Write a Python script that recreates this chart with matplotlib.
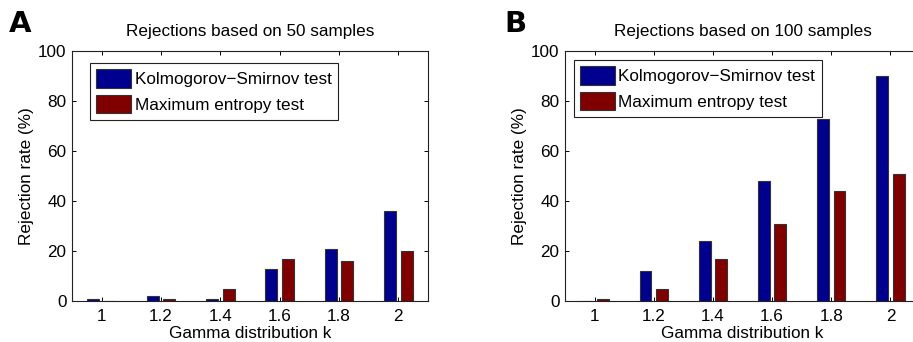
import numpy as np
import matplotlib
matplotlib.use("Agg")
import matplotlib.pyplot as plt

# data
k_values = [1, 1.2, 1.4, 1.6, 1.8, 2]
k_labels = ["1", "1.2", "1.4", "1.6", "1.8", "2"]
ks_50 = [1, 2, 1, 13, 21, 36]
me_50 = [0, 1, 5, 17, 16, 20]
ks_100 = [0, 12, 24, 48, 73, 90]
me_100 = [1, 5, 17, 31, 44, 51]
titles = ["Rejections based on 50 samples", "Rejections based on 100 samples"]
panel_letters = ["A", "B"]
series_names = ["Kolmogorov\u2212Smirnov test", "Maximum entropy test"]

plt.rcParams['font.family'] = ['Liberation Sans', 'DejaVu Sans']

blue = '#00008f'
red = '#800000'
fs = 12.3

fig = plt.figure(figsize=(9.13, 3.42), dpi=100)
ax_a = fig.add_axes([72/913., 41/342., 356/913., 250/342.])
ax_b = fig.add_axes([565/913., 41/342., 355/913., 250/342.])

panels = [(ax_a, ks_50, me_50, (0.05, 0.952)), (ax_b, ks_100, me_100, (0.024, 0.964))]

x = np.array(k_values)
w = 0.04
off = 0.028
for i, (ax, ks, me, anchor) in enumerate(panels):
  ax.bar(x - off, ks, width=w, color=blue, edgecolor='#333333', linewidth=0.8, label=series_names[0], zorder=2)
  ax.bar(x + off, me, width=w, color=red, edgecolor='#333333', linewidth=0.8, label=series_names[1], zorder=2)
  ax.set_xlim(0.9, 2.1)
  ax.set_ylim(0, 100)
  ax.set_xticks(k_values)
  ax.set_xticklabels(k_labels)
  ax.set_yticks([0, 20, 40, 60, 80, 100])
  ax.tick_params(axis='both', direction='in', top=True, right=True, labelsize=fs, length=3, width=0.7, pad=4)
  ax.tick_params(axis='x', pad=6)
  for sp in ax.spines.values():
    sp.set_linewidth(0.8)
    sp.set_color('#222222')
  ax.set_xlabel("Gamma distribution k", fontsize=fs, labelpad=1)
  ax.set_ylabel("Rejection rate (%)", fontsize=fs, labelpad=3)
  ax.set_title(titles[i], fontsize=fs, pad=11)
  leg = ax.legend(loc='upper left', bbox_to_anchor=anchor, borderaxespad=0, fontsize=fs,
                  handlelength=2.05, handleheight=1.25, fancybox=False, framealpha=1,
                  edgecolor='#222222', borderpad=0.38, labelspacing=0.45, handletextpad=0.2)
  leg.get_frame().set_linewidth(0.8)

fig.text(9/913., 1 - 24/342., panel_letters[0], fontsize=21, fontweight='bold', va='center', ha='left', family='DejaVu Sans')
fig.text(504/913., 1 - 24/342., panel_letters[1], fontsize=21, fontweight='bold', va='center', ha='left', family='DejaVu Sans')

fig.savefig("out.png", dpi=100)
